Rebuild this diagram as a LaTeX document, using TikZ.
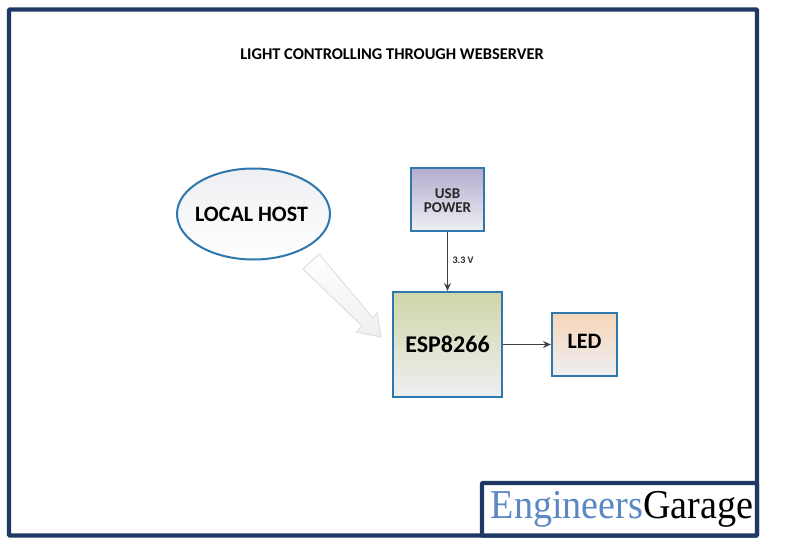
\documentclass[tikz,border=0pt]{standalone}
\usepackage{fontspec}
\setmainfont{Carlito}
\newfontfamily\logofont{Liberation Serif}
\usetikzlibrary{arrows.meta,shapes.geometric}
\definecolor{framenavy}{HTML}{1F3864}
\definecolor{boxblue}{HTML}{2E78AE}
\definecolor{logoblue}{HTML}{5B87C5}
\definecolor{linegray}{HTML}{404040}
\definecolor{usbtop}{HTML}{B4ABCF}
\definecolor{esptop}{HTML}{CFD6A8}
\definecolor{ledtop}{HTML}{F6D5B8}
\definecolor{boxlow}{HTML}{EEEFF2}
\tikzset{
  block/.style={draw=boxblue, line width=2pt, inner sep=0pt},
  wire/.style={draw=linegray, line width=1.6pt, -{Stealth[length=8pt,width=7pt]}},
}
\begin{document}
\begin{tikzpicture}[x=1pt, y=-1pt]
\useasboundingbox (0,0) rectangle (800,544);
\fill[white] (0,0) rectangle (800,544);
% outer frame and logo box
\draw[framenavy, line width=4.4pt, rounded corners=1pt] (9,9.5) rectangle (757,535.5);
\draw[framenavy, line width=4.4pt, fill=white, rounded corners=1pt] (482,483) rectangle (757,535.5);
\node[xscale=0.93, transform shape, inner sep=0pt] (logo) at (622,509) {\logofont\fontsize{41}{41}\selectfont\textcolor{logoblue}{Engineers}\textcolor{black}{Garage}};
\node[font=\bfseries\fontsize{16.4}{18}\selectfont] (title) at (392,54) {LIGHT CONTROLLING THROUGH WEBSERVER};
% blocks
\node[block, ellipse, minimum width=153pt, minimum height=91pt, top color=boxlow, bottom color=white] (host) at (253.5,214) {};
\node[font=\bfseries\fontsize{22}{24}\selectfont] (hosttext) at (251.5,214) {LOCAL HOST};
\node[block, minimum width=73pt, minimum height=63pt, top color=usbtop, bottom color=boxlow] (usb) at (447.5,199.5) {};
\node[align=center, font=\bfseries\fontsize{15}{14}\selectfont, text=black!85] (usbtext) at (447.5,201) {USB\\POWER};
\node[block, minimum width=109pt, minimum height=105pt, top color=esptop, bottom color=boxlow, font=\bfseries\fontsize{24}{26}\selectfont] (esp) at (447.5,344.5) {ESP8266};
\node[block, minimum width=65pt, minimum height=63pt, top color=ledtop, bottom color=boxlow] (led) at (584.5,344.5) {};
\node[font=\bfseries\fontsize{22}{24}\selectfont] (ledtext) at (584.5,341.5) {LED};
% connectors
\draw[wire] (usb) -- (esp);
\draw[wire] (esp) -- (led);
\node[font=\bfseries\fontsize{10}{12}\selectfont, text=black!85] (volt) at (463,260) {3.3 V};
% block arrow from host to esp
\draw[black!12, line width=1pt, top color=white, bottom color=boxlow] (303,269) -- (319,254) -- (373,318) -- (377,313) -- (381,337) -- (356,332) -- (362,326) -- cycle;
\end{tikzpicture}
\end{document}
